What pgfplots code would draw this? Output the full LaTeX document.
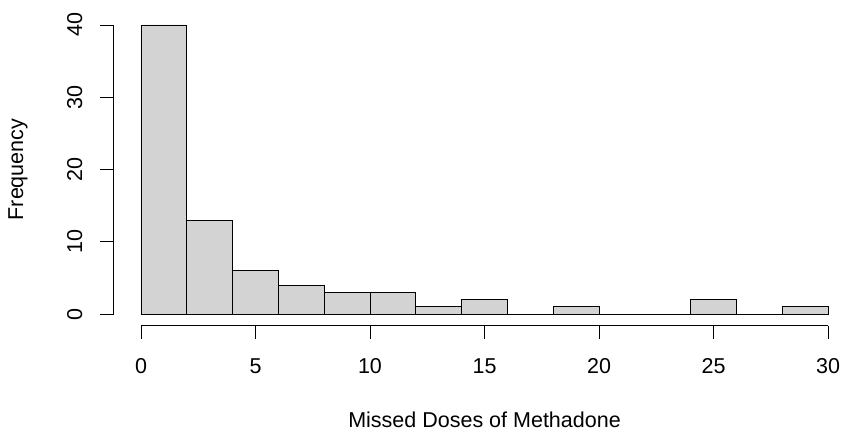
\documentclass[border=0pt]{standalone}
\usepackage{pgfplots}
\pgfplotsset{compat=1.18}
\usepackage{fontspec}
\setmainfont{Liberation Sans}
\definecolor{barfill}{HTML}{D3D3D3}
\begin{document}
\begin{tikzpicture}
\useasboundingbox (0,0) rectangle (842bp,432bp);
\begin{axis}[
  at={(113.5bp,106.4bp)}, anchor=south west,
  scale only axis, width=728.5bp, height=312.2bp,
  xmin=-1.2, xmax=30.61, ymin=-1.6, ymax=41.6,
  axis line style={draw=none},
  tick pos=left, tick align=outside, major tick length=13bp,
  tick style={black, line width=0.8bp},
  xtick={0,5,...,30}, ytick={0,10,...,40},
  minor tick num=0,
  /pgf/number format/assume math mode=true,
  ticklabel style={font=\fontsize{21.5bp}{26bp}\selectfont, inner sep=0pt},
  xticklabel style={anchor=north, yshift=-20bp},
  yticklabel style={anchor=south, xshift=-18bp, rotate=90},
  clip=false,
  xlabel={Missed Doses of Methadone}, ylabel={Frequency},
  every axis x label/.style={at={(rel axis cs:0.5093,0)}, anchor=base, yshift=-102bp, font=\fontsize{21.5bp}{26bp}\selectfont},
  every axis y label/.style={at={(rel axis cs:0,0.5)}, anchor=center, xshift=-95.5bp, rotate=90, font=\fontsize{21.5bp}{26bp}\selectfont},
]
\addplot[ybar interval, fill=barfill, draw=black, line width=0.8bp] coordinates {
  (0,40) (2,13) (4,6) (6,4) (8,3) (10,3) (12,1) (14,2) (16,0) (18,1)
  (20,0) (22,0) (24,2) (26,0) (28,1) (30,1)
};
\draw[black, line width=0.8bp] (axis cs:0,-1.6) -- (axis cs:30,-1.6);
\draw[black, line width=0.8bp] (axis cs:-1.2,0) -- (axis cs:-1.2,40);
\end{axis}
\end{tikzpicture}
\end{document}
